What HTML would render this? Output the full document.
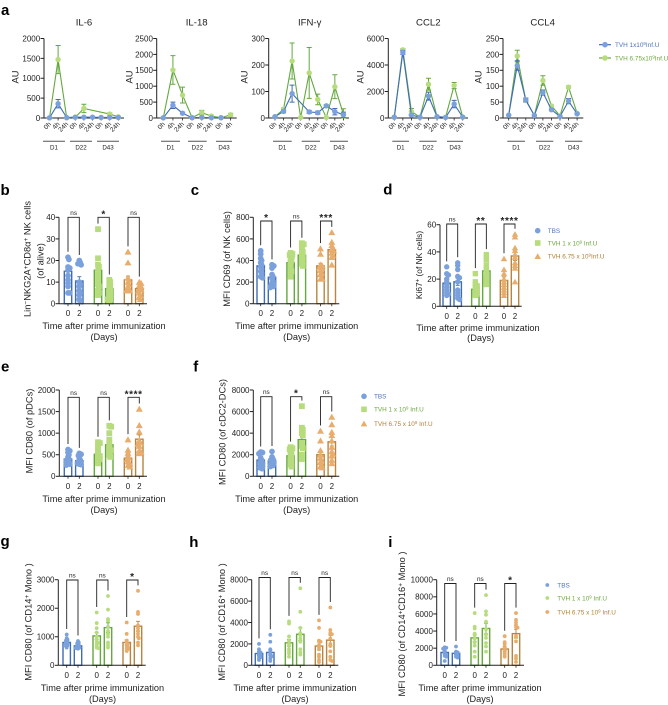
<!DOCTYPE html>
<html lang="en">
<head>
<meta charset="utf-8">
<title>Immune response panels</title>
<style>
html,body{margin:0;padding:0;background:#fff;}
#figure{display:block;width:668px;height:705px;font-family:"Liberation Sans",sans-serif;}
text{fill:#222;font-family:"Liberation Sans","DejaVu Sans",sans-serif;}
.letter{font-size:15px;font-weight:bold;fill:#000;}
.title{font-size:9.6px;text-anchor:middle;}
.au{font-size:9.4px;text-anchor:middle;}
.ylab{font-size:9.3px;text-anchor:middle;}
.xlab{font-size:9.2px;text-anchor:middle;}
.leg{font-size:6.4px;}
.b{fill:#4d74b8;}.g{fill:#6ea83f;}.o{fill:#b07f3a;}
</style>
</head>
<body>
<svg id="figure" xmlns="http://www.w3.org/2000/svg" width="668" height="705" viewBox="0 0 668 705">
<rect width="668" height="705" fill="#fff"/>
<text class="letter" x="1" y="15">a</text>
<text class="letter" x="0.5" y="195">b</text>
<text class="letter" x="190.7" y="195">c</text>
<text class="letter" x="383.3" y="194.5">d</text>
<text class="letter" x="1" y="371.7">e</text>
<text class="letter" x="193.3" y="371.7">f</text>
<text class="letter" x="0.5" y="546">g</text>
<text class="letter" x="189.3" y="547">h</text>
<text class="letter" x="388.3" y="547">i</text>

<text class="title" x="84" y="25.5">IL-6</text>
<text class="title" x="196.7" y="25.5">IL-18</text>
<text class="title" x="309.7" y="25.5">IFN-γ</text>
<text class="title" x="428.3" y="25.5">CCL2</text>
<text class="title" x="542.7" y="25.5">CCL4</text>

<text class="au" transform="translate(18.5 77) rotate(-90)">AU</text>
<text class="au" transform="translate(132.5 77) rotate(-90)">AU</text>
<text class="au" transform="translate(247.5 77) rotate(-90)">AU</text>
<text class="au" transform="translate(363.5 77) rotate(-90)">AU</text>
<text class="au" transform="translate(481.5 77) rotate(-90)">AU</text>

<g>
  <line x1="599" x2="611" y1="44.7" y2="44.7" stroke="#3f6db5" stroke-width="1.2"/>
  <circle cx="605" cy="44.7" r="2.8" fill="#7ba1dc"/>
  <text class="leg b" x="615" y="47">TVH 1x10<tspan dy="-2" font-size="4.4">9</tspan><tspan dy="2">Inf.U</tspan></text>
  <line x1="599" x2="611" y1="58" y2="58" stroke="#64a83e" stroke-width="1.2"/>
  <circle cx="605" cy="58" r="2.8" fill="#b7dc7e"/>
  <text class="leg g" x="615" y="60.3">TVH 6.75x10<tspan dy="-2" font-size="4.4">9</tspan><tspan dy="2">Inf.U</tspan></text>
</g>

<text class="ylab" transform="translate(30.5 259) rotate(-90)">Lin<tspan dy="-2.5" font-size="6.5">−</tspan><tspan dy="2.5">NKG2A</tspan><tspan dy="-2.5" font-size="6.5">+</tspan><tspan dy="2.5">CD8α</tspan><tspan dy="-2.5" font-size="6.5">+</tspan><tspan dy="2.5"> NK cells</tspan></text>
<text class="ylab" transform="translate(43.5 261) rotate(-90)">(of alive)</text>
<text class="ylab" transform="translate(230 259) rotate(-90)">MFI CD69 (of NK cells)</text>
<text class="ylab" style="font-size:8.4px" transform="translate(422 265) rotate(-90)">Ki67<tspan dy="-2.5" font-size="6">+</tspan><tspan dy="2.5"> (of NK cells)</tspan></text>
<text class="ylab" transform="translate(32.5 431) rotate(-90)">MFI CD80 (of pDCs)</text>
<text class="ylab" transform="translate(225.5 432) rotate(-90)">MFI CD80 (of cDC2-DCs)</text>
<text class="ylab" transform="translate(31.5 622) rotate(-90)">MFI CD80 (of CD14<tspan dy="-2.5" font-size="6.5">+</tspan><tspan dy="2.5"> Mono )</tspan></text>
<text class="ylab" transform="translate(225 622) rotate(-90)">MFI CD80 (of CD16<tspan dy="-2.5" font-size="6.5">+</tspan><tspan dy="2.5"> Mono )</tspan></text>
<text class="ylab" transform="translate(405 624) rotate(-90)">MFI CD80 (of CD14<tspan dy="-2.5" font-size="6.5">+</tspan><tspan dy="2.5">CD16</tspan><tspan dy="-2.5" font-size="6.5">+</tspan><tspan dy="2.5"> Mono )</tspan></text>

<text class="xlab" x="104" y="329">Time after prime immunization</text>
<text class="xlab" x="104" y="340">(Days)</text>
<text class="xlab" x="296.7" y="329">Time after prime immunization</text>
<text class="xlab" x="296.7" y="340">(Days)</text>
<text class="xlab" x="478" y="331">Time after prime immunization</text>
<text class="xlab" x="480.7" y="341">(Days)</text>
<text class="xlab" x="104" y="502">Time after prime immunization</text>
<text class="xlab" x="104" y="513">(Days)</text>
<text class="xlab" x="296.7" y="502">Time after prime immunization</text>
<text class="xlab" x="296.7" y="513">(Days)</text>
<text class="xlab" x="102.5" y="691">Time after prime immunization</text>
<text class="xlab" x="102.5" y="702">(Days)</text>
<text class="xlab" x="295" y="691">Time after prime immunization</text>
<text class="xlab" x="295" y="702">(Days)</text>
<text class="xlab" x="480" y="691">Time after prime immunization</text>
<text class="xlab" x="480" y="702">(Days)</text>

<g>
  <circle cx="537.7" cy="230.7" r="2.8" fill="#7ba1dc"/>
  <text class="leg b" x="547.7" y="233">TBS</text>
  <rect x="534.9" y="240.2" width="5.6" height="5.6" fill="#b7dc7e"/>
  <text class="leg g" x="547.7" y="245.5">TVH 1 x 10<tspan dy="-2" font-size="4.4">9</tspan><tspan dy="2"> Inf.U</tspan></text>
  <path d="M537.7 253.2 L541 259 L534.4 259 Z" fill="#e8ad6d"/>
  <text class="leg o" x="547.7" y="258.6">TVH 6.75 x 10<tspan dy="-2" font-size="4.4">9</tspan><tspan dy="2">Inf.U</tspan></text>
</g>
<g>
  <circle cx="364" cy="396.3" r="2.8" fill="#7ba1dc"/>
  <text class="leg b" x="374" y="398.6">TBS</text>
  <rect x="361.2" y="406.5" width="5.6" height="5.6" fill="#b7dc7e"/>
  <text class="leg g" x="374" y="411.6">TVH 1 x 10<tspan dy="-2" font-size="4.4">9</tspan><tspan dy="2"> Inf.U</tspan></text>
  <path d="M364 420.6 L367.3 426.4 L360.7 426.4 Z" fill="#e8ad6d"/>
  <text class="leg o" x="374" y="426">TVH 6.75 x 10<tspan dy="-2" font-size="4.4">9</tspan><tspan dy="2"> Inf.U</tspan></text>
</g>
<g>
  <circle cx="547.3" cy="585" r="1.9" fill="#7ba1dc"/>
  <text class="leg b" x="557.3" y="587.3">TBS</text>
  <circle cx="547.3" cy="598" r="1.9" fill="#b7dc7e"/>
  <text class="leg g" x="557.3" y="600.3">TVH 1 x 10<tspan dy="-2" font-size="4.4">9</tspan><tspan dy="2"> Inf.U</tspan></text>
  <circle cx="547.3" cy="612" r="1.9" fill="#e8ad6d"/>
  <text class="leg o" x="557.3" y="614.3">TVH 6.75 x 10<tspan dy="-2" font-size="4.4">9</tspan><tspan dy="2"> Inf.U</tspan></text>
</g>
</svg>

<script>
/* ---------- panel a: values ---------- */
const xLabels9 = ['0h','4h','24h','0h','4h','24h','0h','4h','24h'];
const xLabels8 = ['0h','4h','24h','0h','4h','24h','0h','4h'];
const dayLabels = ['D1','D22','D43'];

const il6Ticks = [0,500,1000,1500,2000];
const il6Blue = [5,360,10,20,20,20,15,15,15];
const il6BlueErr = [0,105,0,0,10,0,0,10,0];
const il6Green = [5,1470,5,20,240,null,null,100,30];
const il6GreenErr = [0,355,0,0,105,0,0,30,10];

const il18Ticks = [0,500,1000,1500,2000,2500];
const il18Blue = [5,400,150,10,20,10,10,null];
const il18BlueErr = [0,100,30,0,10,0,0,0];
const il18Green = [5,1510,720,10,170,60,5,100];
const il18GreenErr = [0,450,250,0,70,25,0,45];

const ifnTicks = [0,100,200,300];
const ifnBlue = [5,25,92,null,23,20,46,24,12];
const ifnBlueErr = [0,5,32,0,6,6,4,12,10];
const ifnGreen = [5,33,215,2,170,70,2,118,15];
const ifnGreenErr = [0,5,68,0,96,20,0,45,20];

const ccl2Ticks = [0,2000,4000,6000];
const ccl2Blue = [60,4950,220,60,1650,100,40,1050,70];
const ccl2BlueErr = [0,150,60,0,300,20,0,280,10];
const ccl2Green = [60,5150,500,60,2550,100,60,2450,70];
const ccl2GreenErr = [0,100,220,0,450,20,0,230,10];

const ccl4Ticks = [0,50,100,150,200,250];
const ccl4Blue = [9,165,57,8,80,26,5,53,13];
const ccl4BlueErr = [0,15,6,0,8,3,0,8,2];
const ccl4Green = [9,195,55,8,118,38,7,97,15];
const ccl4GreenErr = [0,18,5,0,15,3,0,4,2];

/* ---------- bar panels: values ---------- */
const bTicks = [0,10,20,30,40];
const bMeans = [15,10.5,15.5,7,11,7];
const bErrs = [1.6,2,2.5,1,1.8,0.9];
const bSig = ['ns','*','ns'];
const bPoints = [
 [21.5,20.5,17,16.5,15.5,13,11,9.5,8,5,5],
 [20,19,18.5,18,10,9,8,6,5,4,2,1],
 [34.5,21,18,17,15,13,11,9,8,6,5,4],
 [11,10,9,8,7,6,5,4,3,2,2,1],
 [24,19,12,11,10,9,8,7,6,6,6],
 [10,9.5,8.5,8,7,6.5,6,5,4,3,2]
];

const cTicks = [0,200,400,600,800];
const cMeans = [350,245,380,450,350,500];
const cErrs = [22,20,20,20,25,25];
const cSig = ['*','ns','***'];
const cPoints = [
 [490,460,420,400,380,360,340,320,300,280,250,240],
 [360,350,330,270,250,230,210,190,180,170,160,150],
 [470,460,450,440,420,400,380,350,320,300,280,250],
 [560,550,530,500,480,450,430,410,390,370,350],
 [510,460,360,350,340,330,310,290,270,230,230],
 [660,570,540,520,500,490,470,450,430,360]
];

const dTicks = [0,20,40,60];
const dMeans = [17,18,12.5,26,19,37];
const dErrs = [2,2.6,1.5,2.5,2.6,3.4];
const dSig = ['ns','**','****'];
const dPoints = [
 [29,24,23,20,18,16,14,12,10,9,8],
 [32,30,27,22,21,18,12,10,8,6,5],
 [24,18,16,15,14,13,12,11,10,9,8],
 [38,36,34,30,28,26,22,20,18,16],
 [35,27,24,20,18,16,14,12,10,8],
 [53,51,43,41,38,36,32,30,28,18]
];

const eTicks = [0,500,1000,1500,2000];
const eMeans = [400,360,510,730,420,860];
const eErrs = [35,30,50,70,60,100];
const eSig = ['ns','ns','****'];
const ePoints = [
 [620,590,550,500,450,400,370,340,320,300,280,260],
 [530,510,480,430,380,340,320,300,280,270],
 [790,770,700,620,560,500,470,430,400,360,300],
 [1170,1150,1000,850,780,700,640,600,560,500,450],
 [850,610,540,480,430,390,340,300,260,220],
 [1560,1180,1030,830,780,750,700,600,560,530]
];

const fTicks = [0,2000,4000,6000,8000];
const fMeans = [1500,1400,1900,3400,2000,3200];
const fErrs = [170,130,190,420,320,390];
const fSig = ['ns','*','ns'];
const fPoints = [
 [2250,2200,2100,1700,1500,1300,1200,1000,900,800,700],
 [2300,1800,1600,1500,1400,1300,1200,1100,1000,900],
 [2700,2600,2500,2300,2100,1900,1700,1500,1300,1100,900],
 [6500,4500,4300,4000,3800,3100,2800,2600,2000,1600],
 [4200,3300,2400,2000,1700,1500,1300,1100,900,800],
 [5500,4800,4100,3800,3300,2700,2300,2100,1900,1500,1200]
];

const gTicks = [0,1000,2000,3000];
const gMeans = [800,680,1030,1320,800,1370];
const gErrs = [40,30,120,170,90,170];
const gSig = ['ns','ns','*'];
const gPoints = [
 [1080,950,900,870,840,800,770,740,700,670,620],
 [850,800,770,730,700,670,640,620,600,580],
 [1850,1480,1300,1150,1000,900,800,780,700,620,600],
 [2430,1950,1620,1560,1350,1200,1100,1000,800,700,620],
 [1500,1100,870,800,750,700,650,600,570,500],
 [2610,1870,1800,1400,1300,1200,1100,1000,950,800,700]
];

const hTicks = [0,2000,4000,6000,8000];
const hMeans = [1100,1200,2100,2900,1800,2350];
const hErrs = [150,240,330,600,370,480];
const hSig = ['ns','ns','ns'];
const hPoints = [
 [2000,1500,1300,1200,1050,950,850,750,650,500],
 [2850,2200,1500,1300,1100,950,850,700,550,400],
 [4100,3900,2700,2300,2000,1800,1500,1300,1100,800],
 [7200,5000,3500,3000,2800,2500,2200,1500,1200,1000],
 [4200,3500,2300,2200,1900,1700,1500,1000,800,500,300],
 [5400,3300,3000,2900,2500,2000,1800,1300,800,500,400]
];

const iTicks = [0,2000,4000,6000,8000,10000];
const iMeans = [1500,1400,3200,4300,1900,3700];
const iErrs = [140,120,440,620,240,520];
const iSig = ['ns','ns','*'];
const iPoints = [
 [2100,2050,1950,1700,1500,1300,1200,1100,1000,500],
 [2200,1600,1500,1400,1300,1200,1100,1000,900],
 [6100,4500,4300,3700,3500,3100,2700,2300,1600,1000],
 [8200,6300,5900,5100,4200,3600,3200,2600,2200,1600],
 [3400,2700,2500,2200,2000,1800,1600,1400,1200,1000],
 [6100,5300,5000,4700,4500,4400,3400,2800,1100,800,400]
];

/* ---------- helpers ---------- */
const NS = 'http://www.w3.org/2000/svg';
const root = document.getElementById('figure');
const INK = '#222';
const POINT = ['#7ba1dc','#7ba1dc','#b7dc7e','#b7dc7e','#e8ad6d','#e8ad6d'];
const EDGE = ['#3f6db5','#3f6db5','#64a83e','#64a83e','#b9843f','#b9843f'];

function mk(parent, tag, props, txt){
  const n = document.createElementNS(NS, tag);
  for (const k in props) n.setAttribute(k, props[k]);
  if (txt !== undefined) n.textContent = txt;
  parent.appendChild(n);
  return n;
}
function scale(y0, top, max){ return v => y0 - v / max * (y0 - top); }

function drawYAxis(g, axisX, y0, top, ticks, yOf, fontSize){
  const ax = mk(g, 'line', {x1:axisX, x2:axisX, y1:y0, y2:top, stroke:INK, 'stroke-width':1});
  
  
  ticks.forEach(t => {
    const y = yOf(t);
    const tk = mk(g, 'line', {x1:axisX - 3.5, x2:axisX, y1:y, y2:y, stroke:INK, 'stroke-width':1});
    
    
    const lb = mk(g, 'text', {x:axisX - 3.8, y:y + 2.9, 'text-anchor':'end', 'font-size':fontSize}, String(t));
    
    
  });
}

/* ---------- line panels ---------- */
function drawSeries(g, xOf, yOf, vals, errs, lineColor, fillColor, name){
  const pts = [];
  vals.forEach((v, i) => { if (v !== null) pts.push(xOf(i) + ',' + yOf(v)); });
  const line = mk(g, 'polyline', {points:pts.join(' '), fill:'none', stroke:lineColor, 'stroke-width':1.1});
  
  
  vals.forEach((v, i) => {
    if (v === null) return;
    const x = xOf(i);
    const e = errs[i];
    if (e > 0) {
      const eb = mk(g, 'path', {
        d:'M' + (x-2.5) + ' ' + yOf(v+e) + 'H' + (x+2.5) + 'M' + x + ' ' + yOf(v+e) + 'V' + yOf(Math.max(v-e,0)) + 'M' + (x-2.5) + ' ' + yOf(Math.max(v-e,0)) + 'H' + (x+2.5),
        fill:'none', stroke:lineColor, 'stroke-width':1
      });
      
      
    }
    const c = mk(g, 'circle', {cx:x, cy:yOf(v), r:2.7, fill:fillColor});
    
    
  });
}

function drawLinePanel(name, geo, ticks, xLabels, blue, blueErr, green, greenErr){
  const g = mk(root, 'g', {});
  
  
  const yOf = scale(118, 38.5, ticks[ticks.length - 1]);
  const xOf = i => geo.firstX + i * geo.stepX;
  drawYAxis(g, geo.axisX, 118, 38.5, ticks, yOf, 8);
  const xa = mk(g, 'line', {x1:geo.axisX, x2:geo.endX, y1:118, y2:118, stroke:INK, 'stroke-width':1});
  
  
  xLabels.forEach((t, i) => {
    const x = xOf(i);
    const tk = mk(g, 'line', {x1:x, x2:x, y1:118, y2:120.5, stroke:INK, 'stroke-width':0.8});
    
    
    const lb = mk(g, 'text', {'text-anchor':'end', 'font-size':6.6, transform:'translate(' + (x + 2) + ' 124.5) rotate(-45)'}, t);
    
    
  });
  dayLabels.forEach((d, k) => {
    const a = geo.dayStart[k];
    const b = a + geo.dayWidth[k];
    const bar = mk(g, 'line', {x1:a, x2:b, y1:141.3, y2:141.3, stroke:'#555', 'stroke-width':1});
    
    
    const lb = mk(g, 'text', {x:(a + b) / 2, y:149.3, 'text-anchor':'middle', 'font-size':6.2}, d);
    
    
  });
  drawSeries(g, xOf, yOf, green, greenErr, '#64a83e', '#b7dc7e', 'high-dose');
  drawSeries(g, xOf, yOf, blue, blueErr, '#3f6db5', '#7ba1dc', 'low-dose');
}

/* ---------- bar panels ---------- */
function swarm(vals, yOf, r, limit){
  const placed = [];
  vals.slice().sort((a, b) => b - a).forEach(v => {
    const y = yOf(v);
    let best = 0, bestD = -1;
    const cands = [0, 1, -1, 2, -2, 3, -3, 4, -4];
    for (const c of cands) {
      const off = c * limit / 4;
      let d = Infinity;
      placed.forEach(p => { d = Math.min(d, Math.hypot(p.off - off, p.y - y)); });
      if (d >= r * 0.8) { best = off; bestD = d; break; }
      if (d > bestD) { bestD = d; best = off; }
    }
    placed.push({off:best, y:y});
  });
  return placed;
}

function drawMarker(g, shape, x, y, r, color){
  if (shape === 'square') return mk(g, 'rect', {x:x - r, y:y - r, width:r * 2, height:r * 2, fill:color});
  if (shape === 'triangle') return mk(g, 'path', {d:'M' + x + ' ' + (y - r * 1.15) + 'L' + (x + r * 1.2) + ' ' + (y + r * 0.95) + 'L' + (x - r * 1.2) + ' ' + (y + r * 0.95) + 'Z', fill:color});
  return mk(g, 'circle', {cx:x, cy:y, r:r, fill:color});
}

function drawBarPanel(name, geo, ticks, means, errs, points, sig){
  const g = mk(root, 'g', {});
  
  
  const yOf = scale(geo.y0, geo.top, ticks[ticks.length - 1]);
  const xOf = i => geo.firstX + Math.floor(i / 2) * geo.groupGap + (i % 2) * geo.dayGap;
  const shapes = geo.circlesOnly ? ['circle','circle','circle'] : ['circle','square','triangle'];
  means.forEach((m, i) => {
    const x = xOf(i);
    const bar = mk(g, 'rect', {x:x - 3.7, y:yOf(m), width:7.4, height:geo.y0 - yOf(m), fill:'#fff', stroke:EDGE[i], 'stroke-width':1.4});
    
    
    const eTop = yOf(m + errs[i]);
    const eBot = yOf(m - errs[i]);
    const eb = mk(g, 'path', {d:'M' + (x-2) + ' ' + eTop + 'H' + (x+2) + 'M' + x + ' ' + eTop + 'V' + eBot + 'M' + (x-2) + ' ' + eBot + 'H' + (x+2), fill:'none', stroke:EDGE[i], 'stroke-width':0.9});
    
    
    swarm(points[i], yOf, geo.r, geo.spread).forEach(p => {
      const mark = drawMarker(g, shapes[Math.floor(i / 2)], x + p.off, p.y, geo.r, POINT[i]);
      
      
    });
    const tk = mk(g, 'line', {x1:x, x2:x, y1:geo.y0, y2:geo.y0 + 2.5, stroke:INK, 'stroke-width':0.8});
    
    
    const lb = mk(g, 'text', {x:x, y:geo.y0 + 12.5, 'text-anchor':'middle', 'font-size':8}, i % 2 ? '2' : '0');
    
    
  });
  drawYAxis(g, geo.axisX, geo.y0, geo.top, ticks, yOf, 8);
  const xa = mk(g, 'line', {x1:geo.axisX, x2:geo.endX, y1:geo.y0, y2:geo.y0, stroke:INK, 'stroke-width':1});
  
  
  sig.forEach((s, k) => {
    const a = xOf(k * 2);
    const b = xOf(k * 2 + 1);
    const ya = Math.max(...points[k * 2]);
    const yb = Math.max(...points[k * 2 + 1]);
    const by = geo.bracketY;
    const dropA = Math.max(yOf(ya) - 5.5, by + 3);
    const dropB = Math.max(yOf(yb) - 5.5, by + 3);
    const br = mk(g, 'path', {d:'M' + a + ' ' + dropA + 'V' + by + 'H' + b + 'V' + dropB, fill:'none', stroke:'#222', 'stroke-width':0.9});
    
    
    const isNs = s === 'ns';
    const lb = mk(g, 'text', {
      x:(a + b) / 2, y:isNs ? by - 2.5 : by, 'text-anchor':'middle',
      'font-size':isNs ? 6.4 : 10, 'font-weight':isNs ? 'normal' : 'bold', 'letter-spacing':isNs ? 0 : 0.6
    }, s);
    
    
  });
}

/* ---------- draw ---------- */
drawLinePanel('il6',  {axisX:44,    endX:124,   firstX:49.5,  stepX:8.6,  dayStart:[43,70,97],          dayWidth:[22,22,22]},   il6Ticks,  xLabels9, il6Blue,  il6BlueErr,  il6Green,  il6GreenErr);
drawLinePanel('il18', {axisX:156.7, endX:236.7, firstX:163.3, stepX:9.62, dayStart:[161,188,216],       dayWidth:[19,18.7,16]}, il18Ticks, xLabels8, il18Blue, il18BlueErr, il18Green, il18GreenErr);
drawLinePanel('ifn',  {axisX:268.7, endX:349,   firstX:275,   stepX:8.55, dayStart:[273,301.7,330],     dayWidth:[18.7,18.3,18]}, ifnTicks,  xLabels9, ifnBlue,  ifnBlueErr,  ifnGreen,  ifnGreenErr);
drawLinePanel('ccl2', {axisX:388.3, endX:468,   firstX:394.3, stepX:8.55, dayStart:[392.3,419.3,447],   dayWidth:[16.7,17.4,16]}, ccl2Ticks, xLabels9, ccl2Blue, ccl2BlueErr, ccl2Green, ccl2GreenErr);
drawLinePanel('ccl4', {axisX:503,   endX:583.3, firstX:508.7, stepX:8.55, dayStart:[507.3,536,565],     dayWidth:[17.7,17.3,17.3]}, ccl4Ticks, xLabels9, ccl4Blue, ccl4BlueErr, ccl4Green, ccl4GreenErr);

drawBarPanel('b', {axisX:59,    endX:147,   y0:303.7, top:217.3, bracketY:217.3, firstX:68,    groupGap:30,   dayGap:11.3, r:2.9, spread:1.8}, bTicks, bMeans, bErrs, bPoints, bSig);
drawBarPanel('c', {axisX:253.3, endX:339.3, y0:303.7, top:217.3, bracketY:221,   firstX:260.7, groupGap:29.9, dayGap:11.3, r:2.9, spread:1.8}, cTicks, cMeans, cErrs, cPoints, cSig);
drawBarPanel('d', {axisX:440,   endX:521.7, y0:306.3, top:224.7, bracketY:224,   firstX:446.7, groupGap:28.65, dayGap:11,  r:2.7, spread:1.8}, dTicks, dMeans, dErrs, dPoints, dSig);
drawBarPanel('e', {axisX:59.3,  endX:147,   y0:476.3, top:390,   bracketY:397.3, firstX:68,    groupGap:30,   dayGap:11.3, r:2.9, spread:1.8}, eTicks, eMeans, eErrs, ePoints, eSig);
drawBarPanel('f', {axisX:253.3, endX:339.3, y0:476.3, top:390,   bracketY:396.7, firstX:260.7, groupGap:29.9, dayGap:11.3, r:2.9, spread:1.8}, fTicks, fMeans, fErrs, fPoints, fSig);
drawBarPanel('g', {axisX:58.3,  endX:145.7, y0:665.3, top:579.7, bracketY:580,   firstX:66.7,  groupGap:30,   dayGap:11.3, r:1.9, spread:3.2, circlesOnly:true}, gTicks, gMeans, gErrs, gPoints, gSig);
drawBarPanel('h', {axisX:251.7, endX:338.3, y0:665.3, top:579.7, bracketY:577.5, firstX:259,   groupGap:30,   dayGap:11.3, r:1.9, spread:3.2, circlesOnly:true}, hTicks, hMeans, hErrs, hPoints, hSig);
drawBarPanel('i', {axisX:436.7, endX:524,   y0:665.3, top:579.7, bracketY:583.5, firstX:444.7, groupGap:30,   dayGap:11.3, r:1.9, spread:3.2, circlesOnly:true}, iTicks, iMeans, iErrs, iPoints, iSig);
</script>
</body>
</html>
